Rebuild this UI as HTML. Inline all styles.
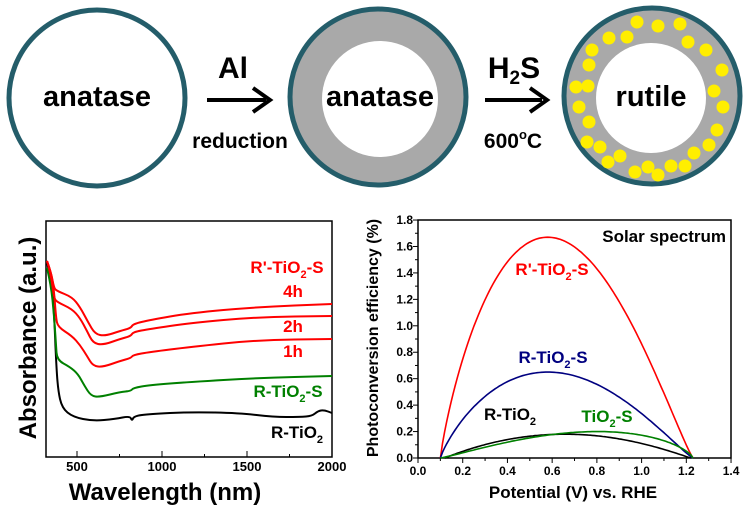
<!DOCTYPE html>
<html><head><meta charset="utf-8"><style>
html,body{margin:0;padding:0;background:#fff;}
svg{display:block;font-family:"Liberation Sans",sans-serif;}
</style></head><body>
<svg id="s" width="749" height="507" viewBox="0 0 749 507" xmlns="http://www.w3.org/2000/svg">
<circle cx="97" cy="98" r="88" fill="#fff" stroke="#245d6a" stroke-width="5"/>
<text x="97" y="106" font-size="29" font-weight="bold" text-anchor="middle">anatase</text>
<text x="233" y="78" font-size="30" font-weight="bold" text-anchor="middle">Al</text>
<line x1="207" y1="100" x2="266" y2="100" stroke="#000" stroke-width="4"/>
<polyline points="253,88 270,100 253,112" fill="none" stroke="#000" stroke-width="4"/>
<text x="240" y="148" font-size="21" font-weight="bold" text-anchor="middle">reduction</text>

<circle cx="378" cy="97" r="88" fill="#a9a9a9" stroke="#245d6a" stroke-width="5"/>
<circle cx="380" cy="99" r="58" fill="#fff"/>
<text x="380" y="106" font-size="29" font-weight="bold" text-anchor="middle">anatase</text>
<text x="514" y="78" font-size="30" font-weight="bold" text-anchor="middle">H<tspan font-size="19" dy="6">2</tspan><tspan dy="-6">S</tspan></text>
<line x1="485" y1="100" x2="542" y2="100" stroke="#000" stroke-width="4"/>
<polyline points="530,88 547,100 530,112" fill="none" stroke="#000" stroke-width="4"/>
<text x="513" y="148" font-size="21" font-weight="bold" text-anchor="middle">600<tspan font-size="13" dy="-9">o</tspan><tspan dy="9">C</tspan></text>

<circle cx="652" cy="96" r="88" fill="#a9a9a9" stroke="#245d6a" stroke-width="5"/>
<circle cx="651" cy="98" r="55" fill="#fff"/>
<g id="dots" fill="#ffee00"></g>
<text x="651" y="106" font-size="29" font-weight="bold" text-anchor="middle">rutile</text>

<rect x="46" y="221" width="286" height="236" fill="none" stroke="#000" stroke-width="1.5"/>
<g id="lt" stroke="#000" stroke-width="1"></g>
<g font-size="13" font-weight="bold" text-anchor="middle">
<text x="77" y="471">500</text><text x="162" y="471">1000</text><text x="247" y="471">1500</text><text x="332" y="471">2000</text>
</g>
<text x="165" y="500" font-size="24" font-weight="bold" text-anchor="middle">Wavelength (nm)</text>
<text transform="translate(36,338) rotate(-90)" font-size="24" font-weight="bold" text-anchor="middle">Absorbance (a.u.)</text>
<g id="lc" fill="none" stroke-width="2"></g>
<g font-size="17" font-weight="bold" text-anchor="middle">
<text x="287" y="273" fill="#f00">R'-TiO<tspan font-size="11" dy="5">2</tspan><tspan dy="-5">-S</tspan></text>
<text x="293" y="297" fill="#f00">4h</text>
<text x="293" y="332" fill="#f00">2h</text>
<text x="293" y="357" fill="#f00">1h</text>
<text x="288" y="397" fill="#008000">R-TiO<tspan font-size="11" dy="5">2</tspan><tspan dy="-5">-S</tspan></text>
<text x="297" y="438" fill="#000">R-TiO<tspan font-size="11" dy="5">2</tspan></text>
</g>

<rect x="418" y="220" width="313" height="238" fill="none" stroke="#000" stroke-width="1.5"/>
<g id="rt" stroke="#000" stroke-width="1"></g>
<g id="rl" font-size="12" font-weight="bold"></g>
<text x="573" y="498" font-size="17" font-weight="bold" text-anchor="middle">Potential (V) vs. RHE</text>
<text transform="translate(378,338) rotate(-90)" font-size="16" font-weight="bold" text-anchor="middle">Photoconversion efficiency (%)</text>
<text x="726" y="242" font-size="17" font-weight="bold" text-anchor="end">Solar spectrum</text>
<g id="rc" fill="none" stroke-width="1.6"></g>
<g font-size="17" font-weight="bold" text-anchor="middle">
<text x="552" y="275" fill="#f00">R'-TiO<tspan font-size="11" dy="5">2</tspan><tspan dy="-5">-S</tspan></text>
<text x="553" y="363" fill="#000080">R-TiO<tspan font-size="11" dy="5">2</tspan><tspan dy="-5">-S</tspan></text>
<text x="510" y="420" fill="#000">R-TiO<tspan font-size="11" dy="5">2</tspan></text>
<text x="607" y="422" fill="#008000">TiO<tspan font-size="11" dy="5">2</tspan><tspan dy="-5">-S</tspan></text>
</g>
</svg>
<script>
var NS="http://www.w3.org/2000/svg";
function el(p,t,a){var e=document.createElementNS(NS,t);for(var k in a)e.setAttribute(k,a[k]);document.getElementById(p).appendChild(e);return e;}
var dots=[[637,22],[658,26],[680,24],[609,38],[627,37],[688,42],[706,50],[592,50],[589,65],[722,70],[576,87],[588,86],[714,91],[579,107],[723,107],[589,122],[717,130],[587,142],[709,145],[600,147],[694,153],[608,162],[620,156],[685,166],[635,172],[648,167],[671,166],[658,175]];
dots.forEach(function(d){el("dots","circle",{cx:d[0],cy:d[1],r:6.5});});
for(var i=-1;i<=12;i++){var x=77+i*42.5;if(x>332||x<46)continue;var L=(i%2==0)?6:3;el("lt","line",{x1:x,y1:457,x2:x,y2:457-L});}
function lc(pts,c){var d="M"+pts[0][0]+","+pts[0][1];
for(var i=1;i<pts.length-1;i++){var mx=(pts[i][0]+pts[i+1][0])/2,my=(pts[i][1]+pts[i+1][1])/2;d+=" Q"+pts[i][0]+","+pts[i][1]+" "+mx+","+my;}
var l=pts[pts.length-1];d+=" L"+l[0]+","+l[1];
el("lc","path",{d:d,stroke:c,"stroke-linejoin":"round"});}
lc([[47,262],[51,280],[54,310],[56,360],[58,390],[62,408],[73,417],[93,421],[115,419],[130,416],[132,421],[134,416],[150,414],[190,412],[240,413],[273,417],[300,417],[312,416],[318,411],[324,410],[332,413]],"#000");
lc([[47,268],[51,285],[54,315],[56,345],[57,360],[70,367],[78,374],[84,385],[91,396],[100,397],[120,392],[131,391],[133,388],[150,385],[190,382],[257,378],[332,376]],"#008000");
lc([[47,261],[51,272],[54,290],[56,318],[58,327],[72,336],[80,345],[87,356],[93,366],[103,367],[120,361],[131,358],[133,355],[150,352],[190,347],[257,340],[332,339]],"#f00");
lc([[47,261],[51,275],[54,298],[57,302],[72,309],[80,318],[87,331],[93,343],[103,345],[120,339],[131,336],[133,332],[150,329],[190,323],[257,317],[332,316]],"#f00");
lc([[47,261],[51,272],[54,288],[57,291],[72,297],[80,307],[88,322],[95,334],[105,336],[120,331],[131,328],[133,324],[150,320],[190,313],[257,307],[332,304]],"#f00");
function X(v){return 418+v*223.6;}function Y(v){return 458-v*132.2;}
for(var i=0;i<=14;i++){var x=X(i*0.1);var L=(i%2==0)?5:3;el("rt","line",{x1:x,y1:458,x2:x,y2:458+L});
if(i%2==0){var t=el("rl","text",{x:x,y:475,"text-anchor":"middle"});t.textContent=(i/10).toFixed(1);}}
for(var i=0;i<=18;i++){var y=Y(i*0.1);var L=(i%2==0)?5:3;el("rt","line",{x1:418,y1:y,x2:418-L,y2:y});
if(i%2==0){var t=el("rl","text",{x:413,y:y+4,"text-anchor":"end"});t.textContent=(i/10).toFixed(1);}}
function rc(v0,v1,peak,a,b,c){var tm=a/(a+b),m=Math.pow(tm,a)*Math.pow(1-tm,b),d="";
for(var i=0;i<=120;i++){var t=i/120,v=v0+(v1-v0)*t,f=peak*Math.pow(t,a)*Math.pow(1-t,b)/m;d+=(i?"L":"M")+X(v).toFixed(1)+","+Y(f).toFixed(1)+" ";}
el("rc","path",{d:d,stroke:c});}
rc(0.1,1.23,1.67,0.85,1.15,"#f00");
rc(0.1,1.23,0.65,0.85,1.15,"#000080");
rc(0.12,1.22,0.18,1.0,1.05,"#000");
rc(0.1,1.23,0.2,1.15,0.7,"#008000");
</script>
</body></html>
